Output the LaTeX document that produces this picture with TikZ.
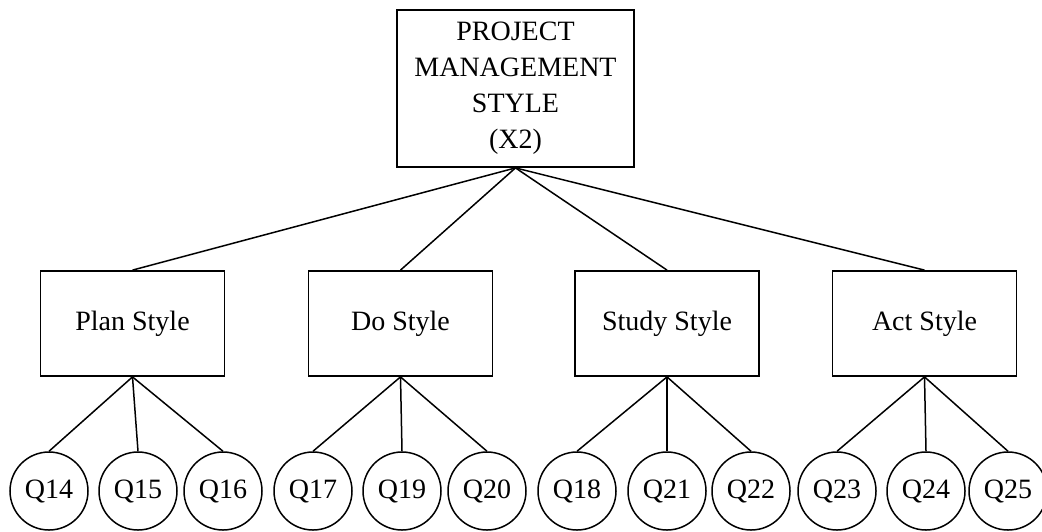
\documentclass[tikz,border=0pt]{standalone}
\usepackage{fontspec}
\setmainfont{Liberation Serif}
\begin{document}
\begin{tikzpicture}[x=0.5pt,y=-0.5pt,
  topbox/.style={draw, line width=0.9pt, minimum width=118.5pt, minimum height=78.5pt, align=center, font=\fontsize{14}{18}\selectfont, inner sep=0pt},
  midbox/.style={draw, line width=0.9pt, minimum width=92pt, minimum height=52.5pt, font=\fontsize{14}{17}\selectfont},
  qnode/.style={draw, circle, line width=0.75pt, minimum size=39pt, inner sep=0pt, font=\fontsize{14}{17}\selectfont},
  link/.style={line width=0.75pt}]
\useasboundingbox (0,0) rectangle (1042,531);
\node[topbox] (top) at (515.5,88.5) {PROJECT\\MANAGEMENT\\STYLE\\(X2)};
\node[midbox] (plan) at (132.5,323.5) {Plan Style};
\node[midbox] (do) at (400.5,323.5) {Do Style};
\node[midbox] (study) at (667,323.5) {Study Style};
\node[midbox] (act) at (924.5,323.5) {Act Style};
\node[qnode] (q14) at (49,491) {Q14};
\node[qnode] (q15) at (138,491) {Q15};
\node[qnode] (q16) at (223,491) {Q16};
\node[qnode] (q17) at (313,491) {Q17};
\node[qnode] (q19) at (402,491) {Q19};
\node[qnode] (q20) at (487,491) {Q20};
\node[qnode] (q18) at (577,491) {Q18};
\node[qnode] (q21) at (667,491) {Q21};
\node[qnode] (q22) at (751,491) {Q22};
\node[qnode] (q23) at (837,491) {Q23};
\node[qnode] (q24) at (926,491) {Q24};
\node[qnode] (q25) at (1008,491) {Q25};
\foreach \m in {plan,do,study,act} \draw[link] (top.south) -- (\m.north);
\foreach \q in {q14,q15,q16} \draw[link] (plan.south) -- (\q.north);
\foreach \q in {q17,q19,q20} \draw[link] (do.south) -- (\q.north);
\foreach \q in {q18,q21,q22} \draw[link] (study.south) -- (\q.north);
\foreach \q in {q23,q24,q25} \draw[link] (act.south) -- (\q.north);
\end{tikzpicture}
\end{document}
